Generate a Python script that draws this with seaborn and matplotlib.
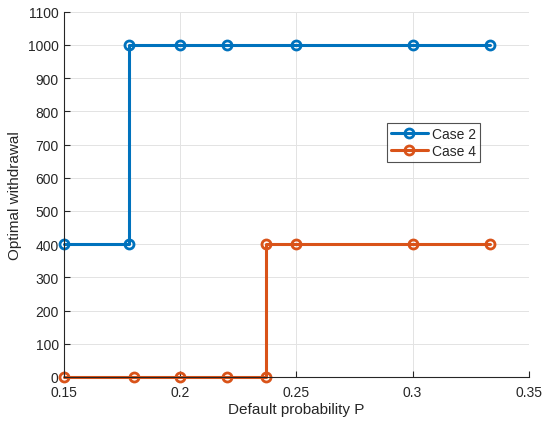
import pandas as pd
import seaborn as sns
import matplotlib.pyplot as plt

# values
case2_p = [0.15, 0.178, 0.178, 0.2, 0.22, 0.25, 0.3, 0.3333]
case2_w = [400, 400, 1000, 1000, 1000, 1000, 1000, 1000]
case4_p = [0.15, 0.18, 0.2, 0.22, 0.237, 0.237, 0.25, 0.3, 0.3333]
case4_w = [0, 0, 0, 0, 0, 400, 400, 400, 400]
x_ticks = [0.15, 0.2, 0.25, 0.3, 0.35]
y_ticks = list(range(0, 1101, 100))

df = pd.concat([
    pd.DataFrame({"p": case2_p, "w": case2_w, "case": "Case 2"}),
    pd.DataFrame({"p": case4_p, "w": case4_w, "case": "Case 4"}),
])

sns.set_style("white")
plt.rcParams['font.family'] = ['Liberation Sans', 'DejaVu Sans']

fig = plt.figure(figsize=(5.44, 4.27), dpi=100)
ax = fig.add_axes([0.118, 0.115, 0.854, 0.855])

palette = {"Case 2": "#0072BD", "Case 4": "#D95319"}
sns.lineplot(data=df, x="p", y="w", hue="case", estimator=None, sort=False,
             palette=palette, linewidth=2.2, marker="o", ax=ax)

def style_line(ln):
    c = ln.get_color()
    ln.set_marker("o")
    ln.set_markersize(6.5)
    ln.set_markerfacecolor("none")
    ln.set_markeredgecolor(c)
    ln.set_markeredgewidth(2)
    ln.set_linewidth(2.2)

for ln in ax.lines:
    style_line(ln)
    ln.set_clip_on(False)

ax.set_xlim(0.15, 0.35)
ax.set_ylim(0, 1100)
ax.set_xticks(x_ticks)
ax.set_xticklabels(["0.15", "0.2", "0.25", "0.3", "0.35"])
ax.set_yticks(y_ticks)
ax.grid(True, color="#e3e3e3", linewidth=0.7)
ax.tick_params(direction="in", length=4, labelsize=10, colors="#262626",
               top=False, right=False, bottom=True, left=True)
ax.tick_params(axis="x", pad=6)
ax.tick_params(axis="y", pad=4)
for s in ["top", "right"]:
    ax.spines[s].set_visible(False)
for s in ["left", "bottom"]:
    ax.spines[s].set_color("#262626")
    ax.spines[s].set_linewidth(0.8)
ax.set_xlabel("Default probability P", fontsize=11, color="#262626", labelpad=2)
ax.set_ylabel("Optimal withdrawal", fontsize=11, color="#262626")

handles, labels = ax.get_legend_handles_labels()
for h in handles:
    style_line(h)
leg = ax.legend(handles, labels, loc="upper right", bbox_to_anchor=(0.895, 0.695),
                fontsize=10, frameon=True, fancybox=False, borderpad=0.3,
                handlelength=2.6, handletextpad=0.3, labelspacing=0.2,
                borderaxespad=0, title=None)
leg.get_frame().set_edgecolor("#262626")
leg.get_frame().set_linewidth(0.8)

fig.savefig("out.png", dpi=100)
